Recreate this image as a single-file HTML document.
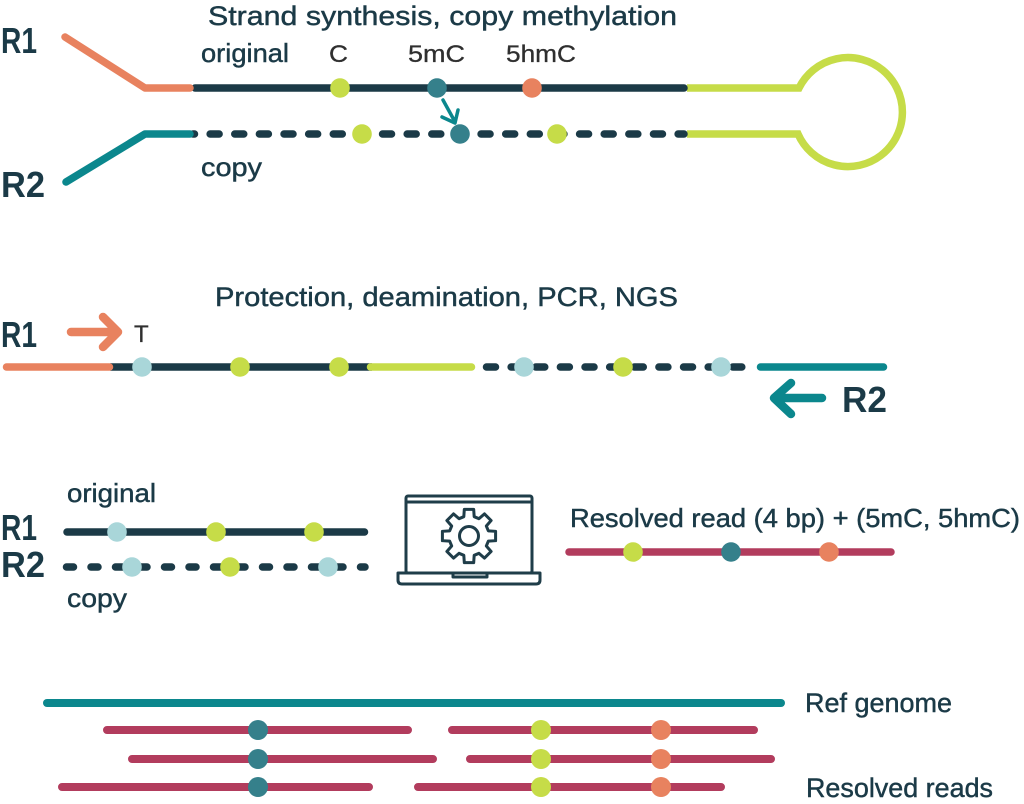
<!DOCTYPE html>
<html>
<head>
<meta charset="utf-8">
<style>
  html,body{margin:0;padding:0;background:#fff;}
  svg{display:block;}
  text{font-family:"Liberation Sans",sans-serif;}
  .t{fill:#1b3a47;stroke:#1b3a47;stroke-width:0.45px;}
  .g{fill:#2f2f2f;stroke:#2f2f2f;stroke-width:0.3px;}
  .b{font-weight:bold;fill:#1b3a47;font-size:36px;}
</style>
</head>
<body>
<svg width="1024" height="804" viewBox="0 0 1024 804" xmlns="http://www.w3.org/2000/svg">
  <rect width="1024" height="804" fill="#fff"/>

  <!-- ========== TOP SECTION ========== -->
  <text class="t" x="208" y="25" font-size="27" textLength="469" lengthAdjust="spacingAndGlyphs">Strand synthesis, copy methylation</text>
  <text class="b" x="1" y="53" textLength="36" lengthAdjust="spacingAndGlyphs">R1</text>
  <text class="b" x="1" y="197" textLength="44" lengthAdjust="spacingAndGlyphs">R2</text>
  <text class="t" x="201" y="62" font-size="26" textLength="88" lengthAdjust="spacingAndGlyphs">original</text>
  <text class="g" x="329" y="62" font-size="24" textLength="19" lengthAdjust="spacingAndGlyphs">C</text>
  <text class="g" x="408" y="62" font-size="24" textLength="57" lengthAdjust="spacingAndGlyphs">5mC</text>
  <text class="g" x="506" y="62" font-size="24" textLength="70" lengthAdjust="spacingAndGlyphs">5hmC</text>
  <text class="t" x="201" y="176" font-size="26" textLength="61" lengthAdjust="spacingAndGlyphs">copy</text>

  <!-- green hairpin loop -->
  <path d="M687 88 H799 A54.5 54.5 0 1 1 798 134 H687" fill="none" stroke="#c6dc48" stroke-width="7.5"/>
  <!-- original strand -->
  <path d="M195 88 H684" stroke="#1b3a47" stroke-width="7.5" stroke-linecap="round" fill="none"/>
  <polyline points="65,37 145,88 190,88" fill="none" stroke="#e8825f" stroke-width="7.5" stroke-linecap="round" stroke-linejoin="round"/>
  <!-- copy strand dashed -->
  <path d="M193 134 H684" stroke="#1b3a47" stroke-width="7.5" stroke-linecap="round" fill="none" stroke-dasharray="9 15.63" stroke-dashoffset="7.5"/>
  <polyline points="66,182 145,134 190,134" fill="none" stroke="#0b878d" stroke-width="7.5" stroke-linecap="round" stroke-linejoin="round"/>

  <circle cx="340" cy="88" r="9.8" fill="#c6dc48"/>
  <circle cx="437" cy="88" r="9.8" fill="#35808b"/>
  <circle cx="532" cy="88" r="9.8" fill="#e8825f"/>
  <circle cx="362" cy="134" r="9.8" fill="#c6dc48"/>
  <circle cx="460" cy="134" r="9.8" fill="#35808b"/>
  <circle cx="557" cy="134" r="9.8" fill="#c6dc48"/>

  <!-- small arrow -->
  <path d="M443 100 L454 120 M442 117 L455 123 L458 110" fill="none" stroke="#0b878d" stroke-width="3.5" stroke-linecap="round" stroke-linejoin="round"/>

  <!-- ========== MIDDLE SECTION ========== -->
  <text class="t" x="215" y="306" font-size="27" textLength="463" lengthAdjust="spacingAndGlyphs">Protection, deamination, PCR, NGS</text>
  <text class="b" x="1" y="347" textLength="36" lengthAdjust="spacingAndGlyphs">R1</text>
  <text class="b" x="842" y="412" textLength="45" lengthAdjust="spacingAndGlyphs">R2</text>
  <text class="g" x="134" y="342" font-size="24">T</text>

  <!-- orange arrow -->
  <path d="M71 332 H117 M103 317 L118 332 L103 347" fill="none" stroke="#e8825f" stroke-width="8.5" stroke-linecap="round" stroke-linejoin="round"/>
  <!-- teal arrow -->
  <path d="M822 398 H775 M791 383 L774 398 L791 414" fill="none" stroke="#0b878d" stroke-width="8.5" stroke-linecap="round" stroke-linejoin="round"/>

  <path d="M110 367 H372" stroke="#1b3a47" stroke-width="7.5" fill="none"/>
  <path d="M6.5 367 H109.5" stroke="#e8825f" stroke-width="7.5" stroke-linecap="round" fill="none"/>
  <path d="M370.5 367 H471.5" stroke="#c6dc48" stroke-width="7.5" stroke-linecap="round" fill="none"/>
  <path d="M486.5 367 H742" stroke="#1b3a47" stroke-width="7.5" stroke-linecap="round" fill="none" stroke-dasharray="9 15.63"/>
  <path d="M760.5 367 H883.5" stroke="#0b878d" stroke-width="7.5" stroke-linecap="round" fill="none"/>

  <circle cx="142" cy="367" r="9.8" fill="#a9d6d9"/>
  <circle cx="240" cy="367" r="9.8" fill="#c6dc48"/>
  <circle cx="339" cy="367" r="9.8" fill="#c6dc48"/>
  <circle cx="524" cy="367" r="9.8" fill="#a9d6d9"/>
  <circle cx="623" cy="367" r="9.8" fill="#c6dc48"/>
  <circle cx="721" cy="367" r="9.8" fill="#a9d6d9"/>

  <!-- ========== RESOLVE SECTION ========== -->
  <text class="t" x="67" y="502" font-size="26" textLength="89" lengthAdjust="spacingAndGlyphs">original</text>
  <text class="t" x="67" y="607" font-size="26" textLength="60" lengthAdjust="spacingAndGlyphs">copy</text>
  <text class="b" x="1" y="540" textLength="36" lengthAdjust="spacingAndGlyphs">R1</text>
  <text class="b" x="1" y="577" textLength="44" lengthAdjust="spacingAndGlyphs">R2</text>

  <path d="M67 532 H364.5" stroke="#1b3a47" stroke-width="7.5" stroke-linecap="round" fill="none"/>
  <path d="M66.5 567 H365" stroke="#1b3a47" stroke-width="7.5" stroke-linecap="round" fill="none" stroke-dasharray="7 17.5"/>

  <circle cx="117" cy="532" r="9.8" fill="#a9d6d9"/>
  <circle cx="216" cy="532" r="9.8" fill="#c6dc48"/>
  <circle cx="314" cy="532" r="9.8" fill="#c6dc48"/>
  <circle cx="132" cy="567" r="9.8" fill="#a9d6d9"/>
  <circle cx="230" cy="567" r="9.8" fill="#c6dc48"/>
  <circle cx="328" cy="567" r="9.8" fill="#a9d6d9"/>

  <!-- laptop -->
  <g fill="none" stroke="#1f3d49" stroke-width="3" stroke-linejoin="round">
    <rect x="406" y="496" width="126" height="77" rx="2"/>
    <line x1="406" y1="502" x2="532" y2="502"/>
    <path d="M398 573 H453 V577 H487 V573 H540 V580 Q540 584 536 584 H402 Q398 584 398 580 Z"/>
    <g transform="translate(469,536)">
      <path d="M19.32 -5.18 L26.59 -4.69 L26.59 4.69 L19.32 5.18 L17.32 10 L22.12 15.49 L15.49 22.12 L10 17.32 L5.18 19.32 L4.69 26.59 L-4.69 26.59 L-5.18 19.32 L-10 17.32 L-15.49 22.12 L-22.12 15.49 L-17.32 10 L-19.32 5.18 L-26.59 4.69 L-26.59 -4.69 L-19.32 -5.18 L-17.32 -10 L-22.12 -15.49 L-15.49 -22.12 L-10 -17.32 L-5.18 -19.32 L-4.69 -26.59 L4.69 -26.59 L5.18 -19.32 L10 -17.32 L15.49 -22.12 L22.12 -15.49 L17.32 -10 Z"/>
      <circle cx="0" cy="0" r="9.5"/>
    </g>
  </g>

  <text class="t" x="570" y="527" font-size="26" textLength="450" lengthAdjust="spacingAndGlyphs">Resolved read (4 bp) + (5mC, 5hmC)</text>
  <path d="M569 552 H891" stroke="#b23c5d" stroke-width="7.5" stroke-linecap="round" fill="none"/>
  <circle cx="633" cy="552" r="9.8" fill="#c6dc48"/>
  <circle cx="731" cy="552" r="9.8" fill="#35808b"/>
  <circle cx="829" cy="552" r="9.8" fill="#e8825f"/>

  <!-- ========== ALIGNMENT SECTION ========== -->
  <path d="M47 703 H781" stroke="#0b878d" stroke-width="8" stroke-linecap="round" fill="none"/>
  <text class="t" x="805" y="712" font-size="27" textLength="147" lengthAdjust="spacingAndGlyphs">Ref genome</text>
  <text class="t" x="806" y="797" font-size="27" textLength="187" lengthAdjust="spacingAndGlyphs">Resolved reads</text>

  <g stroke="#b23c5d" stroke-width="8" stroke-linecap="round" fill="none">
    <path d="M107 730 H408 M452 730 H754"/>
    <path d="M132 759 H433 M470 759 H771"/>
    <path d="M62 787 H369 M418 787 H721"/>
  </g>
  <g fill="#35808b">
    <circle cx="258" cy="730" r="10"/>
    <circle cx="258" cy="759" r="10"/>
    <circle cx="258" cy="787" r="10"/>
  </g>
  <g fill="#c6dc48">
    <circle cx="541" cy="730" r="10"/>
    <circle cx="541" cy="759" r="10"/>
    <circle cx="541" cy="787" r="10"/>
  </g>
  <g fill="#e8825f">
    <circle cx="661" cy="730" r="10"/>
    <circle cx="661" cy="759" r="10"/>
    <circle cx="661" cy="787" r="10"/>
  </g>
</svg>
</body>
</html>
